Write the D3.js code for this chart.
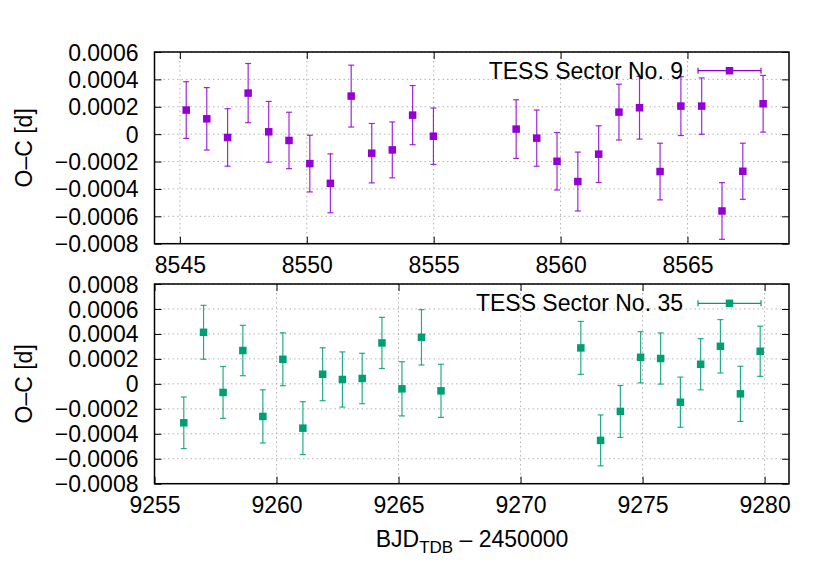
<!DOCTYPE html>
<html>
<head>
<meta charset="utf-8">
<script src="https://cdn.jsdelivr.net/npm/d3@7"></script>
<style>
  body { margin: 0; background: #fff; }
  svg { font-family: "Liberation Sans", Arial, sans-serif; }
  .grid line { stroke: #a0a0a0; stroke-width: 0.8; stroke-dasharray: 1.5,3; }
  .tick text { font-size: 23px; fill: #000; }
</style>
</head>
<body>
<div class="chart"></div>
<script>
// O-C values
var s9_time = [8545.25, 8546.06, 8546.88, 8547.69, 8548.50, 8549.30, 8550.12, 8550.93, 8551.75,
  8552.56, 8553.37, 8554.17, 8554.99, 8558.25, 8559.06, 8559.86, 8560.68, 8561.50, 8562.30,
  8563.11, 8563.92, 8564.74, 8565.56, 8566.36, 8567.18, 8567.98];
var s9_oc = [0.000176, 0.000112, -0.000024, 0.000300, 0.000017, -0.000046, -0.000215, -0.000359, 0.000278,
  -0.000139, -0.000115, 0.000139, -0.000015, 0.000037, -0.000029, -0.000198, -0.000346, -0.000146, 0.000161,
  0.000193, -0.000273, 0.000205, 0.000205, -0.000561, -0.000271, 0.000222];
var s9_err = [0.000207, 0.000228, 0.000210, 0.000216, 0.000222, 0.000206, 0.000207, 0.000215, 0.000226,
  0.000217, 0.000204, 0.000216, 0.000206, 0.000214, 0.000205, 0.000210, 0.000215, 0.000207, 0.000204,
  0.000229, 0.000207, 0.000215, 0.000206, 0.000207, 0.000205, 0.000207];

var s35_time = [9256.20, 9257.01, 9257.81, 9258.62, 9259.44, 9260.26, 9261.08, 9261.89, 9262.70,
  9263.51, 9264.32, 9265.14, 9265.94, 9266.74, 9272.47, 9273.28, 9274.09, 9274.92, 9275.74,
  9276.55, 9277.38, 9278.19, 9279.01, 9279.82];
var s35_oc = [-0.000312, 0.000413, -0.000069, 0.000267, -0.000261, 0.000197, -0.000355, 0.000077, 0.000035,
  0.000043, 0.000328, -0.000040, 0.000373, -0.000056, 0.000288, -0.000453, -0.000221, 0.000213, 0.000203,
  -0.000147, 0.000157, 0.000301, -0.000080, 0.000261];
var s35_err = [0.000207, 0.000216, 0.000208, 0.000202, 0.000213, 0.000212, 0.000212, 0.000212, 0.000221,
  0.000202, 0.000205, 0.000217, 0.000222, 0.000213, 0.000212, 0.000204, 0.000208, 0.000205, 0.000205,
  0.000201, 0.000205, 0.000214, 0.000221, 0.000201];

var s9_xticks = [8545, 8550, 8555, 8560, 8565];
var s9_yticks = [-0.0008, -0.0006, -0.0004, -0.0002, 0, 0.0002, 0.0004, 0.0006];
var s35_xticks = [9255, 9260, 9265, 9270, 9275, 9280];
var s35_yticks = [-0.0008, -0.0006, -0.0004, -0.0002, 0, 0.0002, 0.0004, 0.0006, 0.0008];

var svgWidth = 830;
var svgHeight = 581;

var svg = d3.select(".chart")
  .append("svg")
  .attr("width", svgWidth)
  .attr("height", svgHeight);

function fmtY(d) {
  if (d === 0) return "0";
  var s = Math.abs(d).toFixed(4);
  return (d < 0 ? "\u2212" : "") + s;
}

function drawPanel(p) {
  var left = 154.5, right = 789;
  var x = d3.scaleLinear().domain(p.xdom).range([left, right]);
  var y = d3.scaleLinear().domain(p.ydom).range([p.bottom, p.top]);
  var tickLen = 7;

  var g = svg.append("g");

  // grid
  var grid = g.append("g").attr("class", "grid");
  grid.selectAll(".gx").data(p.xticks).enter().append("line")
    .attr("x1", d => x(d)).attr("x2", d => x(d))
    .attr("y1", p.top).attr("y2", p.bottom);
  grid.selectAll(".gy").data(p.yticks).enter().append("line")
    .attr("x1", left).attr("x2", right)
    .attr("y1", d => y(d)).attr("y2", d => y(d));

  // axes (ticks pointing inward, mirrored on all sides)
  var xAxis = g.append("g")
    .attr("transform", `translate(0, ${p.bottom})`)
    .call(d3.axisBottom(x).tickValues(p.xticks).tickSize(-tickLen).tickPadding(13).tickFormat(d3.format("d")));
  var yAxis = g.append("g")
    .attr("transform", `translate(${left}, 0)`)
    .call(d3.axisLeft(y).tickValues(p.yticks).tickSize(-tickLen).tickPadding(16).tickFormat(fmtY));
  g.append("g")
    .attr("transform", `translate(0, ${p.top})`)
    .call(d3.axisTop(x).tickValues(p.xticks).tickSize(-tickLen).tickFormat(""));
  g.append("g")
    .attr("transform", `translate(${right}, 0)`)
    .call(d3.axisRight(y).tickValues(p.yticks).tickSize(-tickLen).tickFormat(""));
  g.selectAll(".domain").remove();
  g.selectAll(".tick line").attr("stroke", "#000").attr("stroke-width", 1);
  xAxis.selectAll("text").attr("dy", "0.71em");
  yAxis.selectAll("text").attr("dy", "0.35em");

  // border
  g.append("rect")
    .attr("x", left).attr("y", p.top)
    .attr("width", right - left).attr("height", p.bottom - p.top)
    .attr("fill", "none").attr("stroke", "#000").attr("stroke-width", 1.5);

  // y label
  g.append("text")
    .attr("transform", `translate(24, ${(p.top + p.bottom) / 2}) rotate(-90)`)
    .attr("text-anchor", "middle")
    .attr("dy", "0.35em")
    .style("font-size", "23px")
    .text("O\u2013C [d]");

  // error bars
  var rows = p.time.map((t, i) => ({ t: t, v: p.oc[i], e: p.err[i] }));
  var cap = 3;
  var bars = g.append("g").attr("stroke", p.color).attr("stroke-width", 1.2).attr("stroke-opacity", 0.85);
  rows.forEach(function(d) {
    var cx = x(d.t);
    bars.append("line").attr("x1", cx).attr("x2", cx).attr("y1", y(d.v + d.e)).attr("y2", y(d.v - d.e));
    bars.append("line").attr("x1", cx - cap).attr("x2", cx + cap).attr("y1", y(d.v + d.e)).attr("y2", y(d.v + d.e));
    bars.append("line").attr("x1", cx - cap).attr("x2", cx + cap).attr("y1", y(d.v - d.e)).attr("y2", y(d.v - d.e));
  });
  var sz = 7.5;
  g.selectAll(".pt").data(rows).enter().append("rect")
    .attr("x", d => x(d.t) - sz / 2)
    .attr("y", d => y(d.v) - sz / 2)
    .attr("width", sz).attr("height", sz)
    .attr("fill", p.color);

  // key
  var ky = p.keyY;
  g.append("text")
    .attr("x", 683).attr("y", ky)
    .attr("text-anchor", "end")
    .attr("dy", "0.35em")
    .style("font-size", "23px")
    .text(p.label);
  var kg = g.append("g").attr("stroke", p.color).attr("stroke-width", 1.2);
  kg.append("line").attr("x1", 698).attr("x2", 761).attr("y1", ky).attr("y2", ky);
  kg.append("line").attr("x1", 698).attr("x2", 698).attr("y1", ky - cap).attr("y2", ky + cap);
  kg.append("line").attr("x1", 761).attr("x2", 761).attr("y1", ky - cap).attr("y2", ky + cap);
  g.append("rect").attr("x", 729.5 - sz / 2).attr("y", ky - sz / 2)
    .attr("width", sz).attr("height", sz).attr("fill", p.color);
}

drawPanel({
  time: s9_time, oc: s9_oc, err: s9_err,
  xdom: [8544, 8569], ydom: [-0.0008, 0.0006],
  xticks: s9_xticks, yticks: s9_yticks,
  top: 52, bottom: 243.7, color: "#9400d3",
  label: "TESS Sector No. 9", keyY: 70.7
});

drawPanel({
  time: s35_time, oc: s35_oc, err: s35_err,
  xdom: [9255, 9281], ydom: [-0.0008, 0.0008],
  xticks: s35_xticks, yticks: s35_yticks,
  top: 284, bottom: 483.7, color: "#009e73",
  label: "TESS Sector No. 35", keyY: 303.3
});

// x axis label
var xl = svg.append("text")
  .attr("x", 472).attr("y", 547)
  .attr("text-anchor", "middle")
  .style("font-size", "23px");
xl.append("tspan").text("BJD");
xl.append("tspan").attr("dy", 6).style("font-size", "17px").text("TDB");
xl.append("tspan").attr("dy", -6).text(" \u2013 2450000");
</script>
</body>
</html>
